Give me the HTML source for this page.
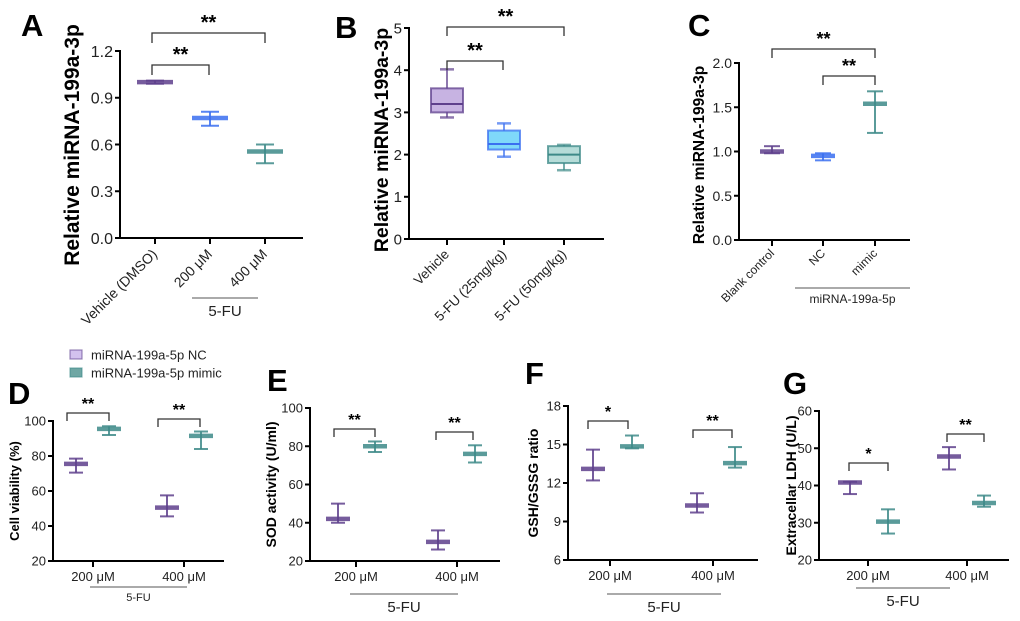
<!DOCTYPE html>
<html><head><meta charset="utf-8"><style>
html,body{margin:0;padding:0;background:#fff;}
svg{display:block;font-family:"Liberation Sans",Arial,sans-serif;}
</style></head><body>
<svg id="fig" width="1020" height="621" viewBox="0 0 1020 621" xmlns="http://www.w3.org/2000/svg"></svg>
<script>
// ---- Panel A data ----
const aCats = ["Vehicle (DMSO)", "200 μM", "400 μM"];
const aMean = [1.0, 0.77, 0.555];
const aLo = [0.99, 0.72, 0.48];
const aHi = [1.01, 0.81, 0.60];
const aTicks = ["0.0", "0.3", "0.6", "0.9", "1.2"];
// ---- Panel B data (box plots) ----
const bCats = ["Vehicle", "5-FU (25mg/kg)", "5-FU (50mg/kg)"];
const bMin = [2.88, 1.95, 1.63];
const bQ1 = [3.0, 2.12, 1.8];
const bMed = [3.2, 2.25, 2.0];
const bQ3 = [3.57, 2.57, 2.2];
const bMax = [4.02, 2.74, 2.23];
const bTicks = ["0", "1", "2", "3", "4", "5"];
// ---- Panel C data ----
const cCats = ["Blank control", "NC", "mimic"];
const cMean = [1.0, 0.95, 1.54];
const cLo = [0.98, 0.90, 1.21];
const cHi = [1.06, 0.98, 1.68];
const cTicks = ["0.0", "0.5", "1.0", "1.5", "2.0"];
// ---- Panels D-G data (NC, mimic at 200 / 400 μM) ----
const groupCats = ["200 μM", "400 μM"];
const dNC = [75.5, 50.5], dNCLo = [70.5, 45.5], dNCHi = [78.5, 57.5];
const dMi = [95.5, 91.5], dMiLo = [92, 84], dMiHi = [97, 94];
const dTicks = ["20", "40", "60", "80", "100"];
const eNC = [42, 30], eNCLo = [40, 26], eNCHi = [50, 36];
const eMi = [80, 76], eMiLo = [77, 71.5], eMiHi = [82.5, 80.5];
const eTicks = ["20", "40", "60", "80", "100"];
const fNC = [13.1, 10.25], fNCLo = [12.2, 9.7], fNCHi = [14.6, 11.2];
const fMi = [14.85, 13.55], fMiLo = [14.7, 13.2], fMiHi = [15.7, 14.8];
const fTicks = ["6", "9", "12", "15", "18"];
const gNC = [40.8, 47.8], gNCLo = [37.7, 44.3], gNCHi = [41, 50.3];
const gMi = [30.3, 35.3], gMiLo = [27.1, 34.3], gMiHi = [33.6, 37.3];
const gTicks = ["20", "30", "40", "50", "60"];

const NS = "http://www.w3.org/2000/svg";
const svg = document.getElementById("fig");
function mk(tag, attrs, parent, text) {
  const e = document.createElementNS(NS, tag);
  for (const k in attrs) e.setAttribute(k, attrs[k]);
  if (text !== undefined) e.textContent = text;
  (parent || svg).appendChild(e);
  return e;
}
const PURPLE = "#5e3f8c", BLUE = "#3a6ff0", TEAL = "#3d8a88";

function axes(g, ax) {
  mk("line", {x1: ax.x0, y1: ax.yTop - 1, x2: ax.x0, y2: ax.yBot, stroke: "#000", "stroke-width": 2}, g);
  mk("line", {x1: ax.x0 - 1, y1: ax.yBot, x2: ax.x1, y2: ax.yBot, stroke: "#000", "stroke-width": 2}, g);
  ax.ticks.forEach((t) => {
    const y = ax.sy(parseFloat(t));
    mk("line", {x1: ax.x0 - 5, y1: y, x2: ax.x0, y2: y, stroke: "#000", "stroke-width": 2}, g);
    const tl = mk("text", {x: ax.x0 - 7, y: y + ax.fs * 0.36, "text-anchor": "end", "font-size": ax.fs, fill: "#222"}, g, t);
    
    
  });
  ax.xt.forEach((x) => mk("line", {x1: x, y1: ax.yBot, x2: x, y2: ax.yBot + 6, stroke: "#000", "stroke-width": 2}, g));
}
function errMark(g, x, m, lo, hi, sy, col, hw, cw) {
  mk("line", {x1: x, y1: sy(lo), x2: x, y2: sy(hi), stroke: col, "stroke-width": 2, "stroke-opacity": 0.85}, g);
  mk("line", {x1: x - cw, y1: sy(lo), x2: x + cw, y2: sy(lo), stroke: col, "stroke-width": 2, "stroke-opacity": 0.85}, g);
  mk("line", {x1: x - cw, y1: sy(hi), x2: x + cw, y2: sy(hi), stroke: col, "stroke-width": 2, "stroke-opacity": 0.85}, g);
  const mm = mk("line", {x1: x - hw, y1: sy(m), x2: x + hw, y2: sy(m), stroke: col, "stroke-width": 4.5, "stroke-opacity": 0.85}, g);
  
  
}
function bracket(g, x1, x2, y, drop, stars, fs) {
  mk("path", {d: `M${x1},${y + drop}V${y}H${x2}V${y + drop}`, fill: "none", stroke: "#333", "stroke-width": 1.3}, g);
  const t = mk("text", {x: (x1 + x2) / 2, y: y - 4, "text-anchor": "middle", "font-size": fs, "font-weight": "bold"}, g, stars);
  
  
}
function letter(x, y, L, size) {
  const t = mk("text", {x: x, y: y, "font-size": size || 31, "font-weight": "bold"}, svg, L);
  
  
}
function ytitle(g, x, y, s, fs) {
  const t = mk("text", {x: 0, y: 0, transform: `translate(${x},${y}) rotate(-90)`, "text-anchor": "middle", "font-size": fs, "font-weight": "bold"}, g, s);
  
  
}
function rotLabels(g, xs, cats, y, fs) {
  cats.forEach((c, i) => {
    const t = mk("text", {x: 0, y: 0, transform: `translate(${xs[i] + 3},${y}) rotate(-45)`, "text-anchor": "end", "font-size": fs, fill: "#222"}, g, c);
    
    
  });
}
function groupLine(g, x1, x2, y, label, fs) {
  mk("line", {x1: x1, y1: y, x2: x2, y2: y, stroke: "#555", "stroke-width": 1}, g);
  const t = mk("text", {x: (x1 + x2) / 2, y: y + fs + 3, "text-anchor": "middle", "font-size": fs, fill: "#222"}, g, label);
  
  
}
function lin(d0, d1, p0, p1) { return (v) => p0 + (v - d0) / (d1 - d0) * (p1 - p0); }

// ---- Panel A ----
(function () {
  const g = mk("g", {});  
  const sy = lin(0, 1.2, 238, 51);
  const xs = [155, 210, 265];
  axes(g, {x0: 120, x1: 303, yTop: 51, yBot: 238, ticks: aTicks, sy: sy, fs: 16, xt: xs});
  const cols = [PURPLE, BLUE, TEAL];
  aCats.forEach((c, i) => errMark(g, xs[i], aMean[i], aLo[i], aHi[i], sy, cols[i], 18, 9));
  bracket(g, 152, 265, 33, 10, "**", 20);
  bracket(g, 152, 209, 65, 10, "**", 20);
  rotLabels(g, xs, aCats, 255, 14);
  groupLine(g, 192, 258, 298, "5-FU", 15);
  ytitle(g, 79, 145, "Relative miRNA-199a-3p", 21);
  letter(21, 36, "A");
})();

// ---- Panel B ----
(function () {
  const g = mk("g", {});  
  const sy = lin(0, 5, 239, 28);
  const xs = [447, 504, 564];
  axes(g, {x0: 409, x1: 604, yTop: 28, yBot: 239, ticks: bTicks, sy: sy, fs: 15, xt: xs});
  const cols = [PURPLE, BLUE, TEAL], fills = ["#c7b3e2", "#7fd8fa", "#b5dcd8"];
  bCats.forEach((c, i) => {
    const x = xs[i], hw = 16, col = cols[i];
    mk("line", {x1: x, y1: sy(bMin[i]), x2: x, y2: sy(bMax[i]), stroke: col, "stroke-width": 2, "stroke-opacity": 0.7}, g);
    mk("line", {x1: x - 7, y1: sy(bMin[i]), x2: x + 7, y2: sy(bMin[i]), stroke: col, "stroke-width": 2.5, "stroke-opacity": 0.7}, g);
    mk("line", {x1: x - 7, y1: sy(bMax[i]), x2: x + 7, y2: sy(bMax[i]), stroke: col, "stroke-width": 2.5, "stroke-opacity": 0.7}, g);
    const r = mk("rect", {x: x - hw, y: sy(bQ3[i]), width: hw * 2, height: sy(bQ1[i]) - sy(bQ3[i]), fill: fills[i], stroke: col, "stroke-width": 2, "stroke-opacity": 0.75}, g);
    
    
    mk("line", {x1: x - hw, y1: sy(bMed[i]), x2: x + hw, y2: sy(bMed[i]), stroke: col, "stroke-width": 2}, g);
  });
  bracket(g, 447, 564, 27, 9, "**", 20);
  bracket(g, 447, 503, 61, 9, "**", 20);
  rotLabels(g, xs, bCats, 255, 13.5);
  ytitle(g, 388, 140, "Relative miRNA-199a-3p", 19.5);
  letter(335, 38, "B");
})();

// ---- Panel C ----
(function () {
  const g = mk("g", {});  
  const sy = lin(0, 2, 240, 63);
  const xs = [772, 823, 875];
  axes(g, {x0: 739, x1: 910, yTop: 63, yBot: 240, ticks: cTicks, sy: sy, fs: 14, xt: xs});
  const cols = [PURPLE, BLUE, TEAL];
  cCats.forEach((c, i) => errMark(g, xs[i], cMean[i], cLo[i], cHi[i], sy, cols[i], 12, 8));
  bracket(g, 772, 875, 49, 9, "**", 18);
  bracket(g, 823, 875, 76, 9, "**", 18);
  rotLabels(g, xs, cCats, 254, 12);
  groupLine(g, 795, 910, 288, "miRNA-199a-5p", 12);
  ytitle(g, 704, 155, "Relative miRNA-199a-3p", 15.5);
  letter(688, 36, "C");
})();

// ---- Panels D-G ----
function groupPanel(o) {
  const g = mk("g", {});  
  const lo = parseFloat(o.ticks[0]), hi = parseFloat(o.ticks[o.ticks.length - 1]);
  const sy = lin(lo, hi, o.yBot, o.yTop);
  axes(g, {x0: o.x0, x1: o.x1, yTop: o.yTop, yBot: o.yBot, ticks: o.ticks, sy: sy, fs: 13, xt: o.xt});
  groupCats.forEach((c, i) => {
    errMark(g, o.xNC[i], o.nc[i], o.ncLo[i], o.ncHi[i], sy, PURPLE, 12, 7);
    errMark(g, o.xMi[i], o.mi[i], o.miLo[i], o.miHi[i], sy, TEAL, 12, 7);
    const t = mk("text", {x: o.xt[i], y: o.yBot + 20, "text-anchor": "middle", "font-size": 13, fill: "#222"}, g, c);
    
    
    bracket(g, o.br[i][0], o.br[i][1], o.br[i][2], 8, o.stars[i], 16);
  });
  groupLine(g, o.gl[0], o.gl[1], o.gl[2], "5-FU", o.gl[3]);
  ytitle(g, o.tx, (o.yTop + o.yBot) / 2, o.title, o.tfs);
}
groupPanel({name: "panel-d", x0: 53, x1: 224, yTop: 421, yBot: 561, ticks: dTicks, xt: [93, 184], xNC: [76, 167], xMi: [109, 201],
  nc: dNC, ncLo: dNCLo, ncHi: dNCHi, mi: dMi, miLo: dMiLo, miHi: dMiHi, stars: ["**", "**"],
  br: [[67, 109, 413], [158, 200, 419]], gl: [90, 187, 587, 11], title: "Cell viability (%)", tx: 19, tfs: 13});
groupPanel({name: "panel-e", x0: 310, x1: 500, yTop: 408, yBot: 561, ticks: eTicks, xt: [356, 457], xNC: [338, 438], xMi: [375, 475],
  nc: eNC, ncLo: eNCLo, ncHi: eNCHi, mi: eMi, miLo: eMiLo, miHi: eMiHi, stars: ["**", "**"],
  br: [[334, 375, 429], [436, 473, 432]], gl: [350, 458, 594, 15], title: "SOD activity (U/ml)", tx: 276, tfs: 14});
groupPanel({name: "panel-f", x0: 568, x1: 758, yTop: 406, yBot: 560, ticks: fTicks, xt: [610, 713], xNC: [593, 697], xMi: [632, 735],
  nc: fNC, ncLo: fNCLo, ncHi: fNCHi, mi: fMi, miLo: fMiLo, miHi: fMiHi, stars: ["*", "**"],
  br: [[588, 628, 421], [693, 732, 430]], gl: [607, 721, 594, 15], title: "GSH/GSSG ratio", tx: 538, tfs: 14});
groupPanel({name: "panel-g", x0: 819, x1: 1009, yTop: 411, yBot: 560, ticks: gTicks, xt: [868, 967], xNC: [850, 949], xMi: [888, 984],
  nc: gNC, ncLo: gNCLo, ncHi: gNCHi, mi: gMi, miLo: gMiLo, miHi: gMiHi, stars: ["*", "**"],
  br: [[849, 888, 463], [947, 984, 434]], gl: [856, 950, 588, 15], title: "Extracellar LDH (U/L)", tx: 796, tfs: 14});
letter(8, 404, "D");
letter(267, 391, "E");
letter(525, 384, "F");
letter(783, 394, "G");

// ---- Legend ----
(function () {
  const g = mk("g", {});  
  const items = [["miRNA-199a-5p NC", "#d3c2ee", PURPLE, 355], ["miRNA-199a-5p mimic", "#6fa7a4", TEAL, 373]];
  items.forEach((it) => {
    const e = mk("g", {}, g);
    
    
    mk("rect", {x: 70, y: it[3] - 5, width: 12, height: 9, fill: it[1], stroke: it[2], "stroke-width": 1.2, "stroke-opacity": 0.6}, e);
    mk("text", {x: 91, y: it[3] + 4.5, "font-size": 13, fill: "#222"}, e, it[0]);
  });
})();
</script>
</body></html>
